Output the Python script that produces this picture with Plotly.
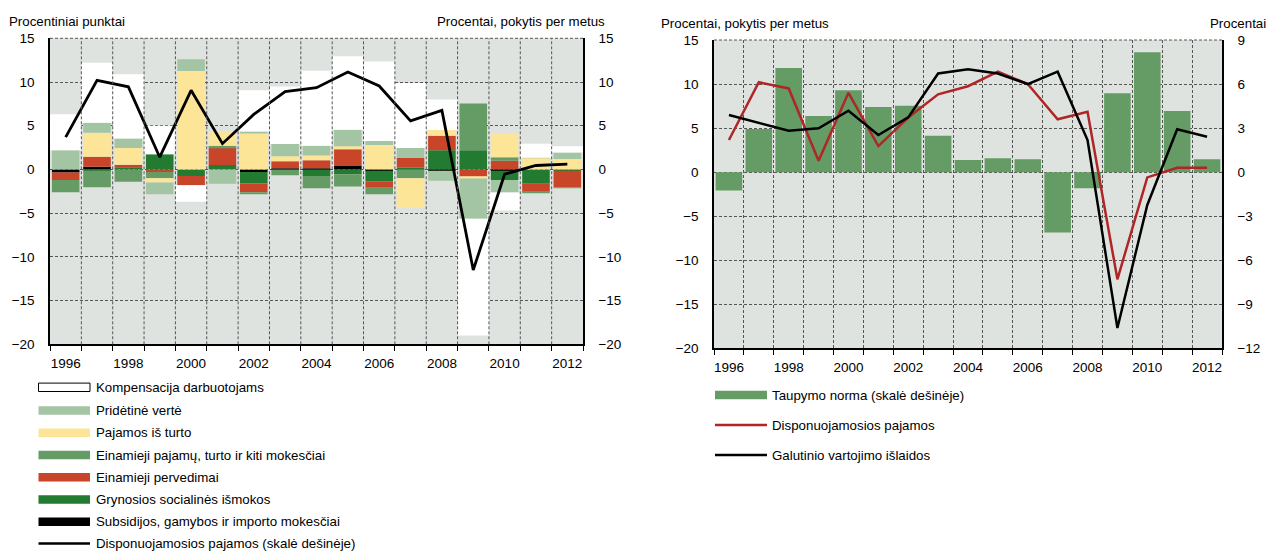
import plotly.graph_objects as go

OFF = 8  # page body margin of the browser
W, H = 1275 - OFF, 552 - OFF
FONT = "Liberation Sans, Arial, sans-serif"

years = list(range(1996, 2013))
year_labels = ["1996", "1998", "2000", "2002", "2004", "2006", "2008", "2010", "2012"]
label_years = [1996, 1998, 2000, 2002, 2004, 2006, 2008, 2010, 2012]

# ---- Left chart: contributions (percentage points) ----
subsidies = [-0.35, 0.3, 0.0, 0.0, 0.0, 0.0, -0.3, 0.15, 0.15, 0.4, -0.15, 0.0, -0.15, 0.0, -0.15, 0.0, 0.0]
social = [0.0, -0.15, 0.25, 1.75, -0.75, 0.5, -1.3, 0.0, -0.75, -0.55, -1.2, 0.2, 2.2, 2.2, -1.05, -1.65, -0.15]
transfers = [-0.85, 1.15, 0.3, -0.3, -1.05, 2.0, -1.0, 0.8, 0.9, 1.9, -0.65, 1.1, 1.65, -0.85, 1.0, -0.9, -1.9]
taxes = [-1.4, -1.9, -1.4, -0.7, 0.0, 0.2, -0.25, -0.65, -1.4, -1.4, -0.85, -1.0, 0.0, 5.35, 0.4, -0.1, -0.05]
property_inc = [0.0, 2.75, 1.9, -0.5, 11.25, 1.6, 4.1, 0.55, 0.55, 0.35, 2.8, -3.35, 0.65, -0.2, 2.7, 1.3, 1.2]
value_added = [2.2, 1.15, 1.1, -1.35, 1.35, -1.65, 0.25, 1.4, 1.1, 1.9, 0.45, 1.15, -1.15, -4.6, -1.45, 0.05, 0.75]
compensation = [4.1, 6.85, 7.35, 3.25, -1.9, 0.0, 4.7, 6.6, 8.6, 8.4, 9.1, 7.45, 3.5, -13.35, -2.05, 1.6, 0.7]
disp_income_left = [3.7, 10.2, 9.45, 1.4, 9.05, 2.95, 6.3, 8.9, 9.35, 11.15, 9.55, 5.55, 6.75, -11.5, -0.55, 0.45, 0.6]

# ---- Right chart ----
saving_rate = [-1.25, 2.93, 7.1, 3.82, 5.57, 4.43, 4.52, 2.48, 0.82, 0.94, 0.87, -4.12, -1.1, 5.37, 8.16, 4.16, 0.87]
disp_income = [3.65, 10.2, 9.5, 1.3, 9.0, 2.96, 6.2, 8.83, 9.75, 11.4, 10.0, 6.0, 6.86, -12.17, -0.6, 0.5, 0.5]
consumption = [6.48, 5.6, 4.7, 4.97, 6.97, 4.21, 6.22, 11.2, 11.67, 11.2, 10.0, 11.4, 3.64, -17.7, -3.73, 4.86, 4.02]

left_names = [
    "Kompensacija darbuotojams",
    "Pridėtinė vertė",
    "Pajamos iš turto",
    "Einamieji pajamų, turto ir kiti mokesčiai",
    "Einamieji pervedimai",
    "Grynosios socialinės išmokos",
    "Subsidijos, gamybos ir importo mokesčiai",
    "Disponuojamosios pajamos (skalė dešinėje)",
]
right_names = ["Taupymo norma (skalė dešinėje)", "Disponuojamosios pajamos", "Galutinio vartojimo išlaidos"]

C_BG = "#dfe3df"
C_WHITE = "#ffffff"
C_LGREEN = "#a3c5a3"
C_YELLOW = "#fde598"
C_MGREEN = "#659b65"
C_RED = "#c8452a"
C_DGREEN = "#237a31"
C_BLACK = "#000000"
C_DARKRED = "#b02626"
GRID = "#555555"
DASH = "3px,2px"

fig = go.Figure()

# stacking order from zero outward
stack = [
    (subsidies, C_BLACK, left_names[6], 0.88),
    (social, C_DGREEN, left_names[5], 0.88),
    (transfers, C_RED, left_names[4], 0.88),
    (taxes, C_MGREEN, left_names[3], 0.88),
    (property_inc, C_YELLOW, left_names[2], 0.88),
    (value_added, C_LGREEN, left_names[1], 0.88),
    (compensation, C_WHITE, left_names[0], 1.0),
]
for vals, col, name, wd in stack:
    fig.add_trace(go.Bar(x=years, y=vals, name=name, marker=dict(color=col, line=dict(width=0)),
                         width=wd, xaxis="x", yaxis="y", showlegend=False))
fig.add_trace(go.Scatter(x=years, y=disp_income_left, name=left_names[7], mode="lines",
                         line=dict(color=C_BLACK, width=2.8), xaxis="x", yaxis="y2", showlegend=False))

# right chart: bars on base (right-side) axis, lines on overlay (left-side) axis so they sit on top
fig.add_trace(go.Bar(x=years, y=saving_rate, name=right_names[0], marker=dict(color=C_MGREEN, line=dict(width=0)),
                     width=0.89, xaxis="x2", yaxis="y3", showlegend=False))
fig.add_trace(go.Scatter(x=years, y=disp_income, name=right_names[1], mode="lines",
                         line=dict(color=C_DARKRED, width=2.5), xaxis="x2", yaxis="y4", showlegend=False))
fig.add_trace(go.Scatter(x=years, y=consumption, name=right_names[2], mode="lines",
                         line=dict(color=C_BLACK, width=2.5), xaxis="x2", yaxis="y4", showlegend=False))


def px_x(p):
    return (p - OFF) / W


def px_y(p):
    return 1 - (p - OFF) / H


L_dom = [px_x(50), px_x(583)]
L_ydom = [px_y(344.3), px_y(38.3)]
R_dom = [px_x(714), px_x(1222)]
R_ydom = [px_y(348.3), px_y(40)]

bounds = [y - 0.5 for y in years] + [2012.5]
TS = 13.5
tickfont = dict(family=FONT, size=TS, color="#000")


def xaxis_cfg(domain, anchor, grid):
    return dict(domain=domain, anchor=anchor, range=[1995.5, 2012.5],
                tickmode="array", tickvals=label_years, ticktext=year_labels, ticks="", showgrid=False,
                tickfont=tickfont, ticklabelstandoff=6,
                minor=dict(tickmode="array", tickvals=bounds, ticks="outside", ticklen=5, tickcolor="#000",
                           tickwidth=1, showgrid=grid, gridcolor=GRID, griddash=DASH, gridwidth=1),
                showline=True, linecolor="#000", linewidth=1.5, zeroline=False, fixedrange=True,
                automargin=False)


ygrid = dict(showgrid=True, gridcolor=GRID, griddash=DASH, gridwidth=1, zeroline=False, ticks="",
             showline=True, linecolor="#000", linewidth=1.5, tickfont=tickfont, ticklabelstandoff=11,
             automargin=False)
yright = dict(showgrid=False, zeroline=False, ticks="", showline=True, linecolor="#000", linewidth=1.5,
              tickfont=tickfont, ticklabelstandoff=11, automargin=False)

fig.update_layout(
    width=W, height=H, margin=dict(l=0, r=0, t=0, b=0, autoexpand=False),
    paper_bgcolor="white", plot_bgcolor=C_BG,
    barmode="relative", bargap=0.1,
    font=dict(family=FONT, size=14, color="#000"),
    xaxis=xaxis_cfg(L_dom, "y", False),
    yaxis=dict(domain=L_ydom, anchor="x", range=[-20, 15], tickvals=[15, 10, 5, 0, -5, -10, -15, -20], **ygrid),
    yaxis2=dict(overlaying="y", anchor="x", side="right", range=[-20, 15],
                tickvals=[15, 10, 5, 0, -5, -10, -15, -20], **yright),
    xaxis2=xaxis_cfg(R_dom, "y3", True),
    yaxis3=dict(domain=R_ydom, anchor="x2", side="right", range=[-12, 9],
                tickvals=[9, 6, 3, 0, -3, -6, -9, -12], **ygrid),
    yaxis4=dict(overlaying="y3", anchor="x2", side="left", range=[-20, 15],
                tickvals=[15, 10, 5, 0, -5, -10, -15, -20], **yright),
)

shapes = []
# vertical dashed separators between years in left chart, drawn above bars
for b in bounds[1:-1]:
    shapes.append(dict(type="line", xref="x", yref="y domain", x0=b, x1=b, y0=0, y1=1,
                       line=dict(color=GRID, width=1, dash=DASH), layer="above"))
# dashed top edges
for xr, yr in (("x domain", "y domain"), ("x2 domain", "y3 domain")):
    shapes.append(dict(type="line", xref=xr, yref=yr, x0=0, x1=1, y0=1, y1=1,
                       line=dict(color=GRID, width=1, dash=DASH), layer="below"))

annotations = []
PAD = 3


def text(x, y, s, anchor="left", size=13.3):
    xx = x - PAD if anchor == "left" else x + PAD
    annotations.append(dict(x=px_x(xx), y=px_y(y), xref="paper", yref="paper", text=s, showarrow=False,
                            xanchor=anchor, yanchor="middle", font=dict(family=FONT, size=size, color="#000")))


text(10, 21, "Procentiniai punktai")
text(604, 21, "Procentai, pokytis per metus", anchor="right")
text(662, 23, "Procentai, pokytis per metus")
text(1265, 23, "Procentai", anchor="right")

# left legend
left_rows = [387.3, 410.5, 432.8, 455, 477.3, 499.5, 521.7, 543.5]
left_cols = [C_WHITE, C_LGREEN, C_YELLOW, C_MGREEN, C_RED, C_DGREEN, C_BLACK]
for i, yc in enumerate(left_rows):
    if i < 7:
        shapes.append(dict(type="rect", xref="paper", yref="paper", x0=px_x(38.5), x1=px_x(90),
                           y0=px_y(yc + 4.2), y1=px_y(yc - 4.2), fillcolor=left_cols[i],
                           line=dict(color="#000" if i == 0 else left_cols[i], width=1 if i == 0 else 0)))
    else:
        shapes.append(dict(type="line", xref="paper", yref="paper", x0=px_x(38.5), x1=px_x(90),
                           y0=px_y(yc), y1=px_y(yc), line=dict(color="#000", width=2.5)))
    text(96.5, yc, left_names[i])

# right legend
right_rows = [395, 425, 455]
shapes.append(dict(type="rect", xref="paper", yref="paper", x0=px_x(715), x1=px_x(767),
                   y0=px_y(399.3), y1=px_y(390.7), fillcolor=C_MGREEN, line=dict(width=0)))
shapes.append(dict(type="line", xref="paper", yref="paper", x0=px_x(715), x1=px_x(767),
                   y0=px_y(425), y1=px_y(425), line=dict(color=C_DARKRED, width=2.5)))
shapes.append(dict(type="line", xref="paper", yref="paper", x0=px_x(715), x1=px_x(767),
                   y0=px_y(455), y1=px_y(455), line=dict(color="#000", width=2.5)))
for i, yc in enumerate(right_rows):
    text(772.5, yc, right_names[i])

fig.update_layout(shapes=shapes, annotations=annotations)
fig.write_html("out.html")
